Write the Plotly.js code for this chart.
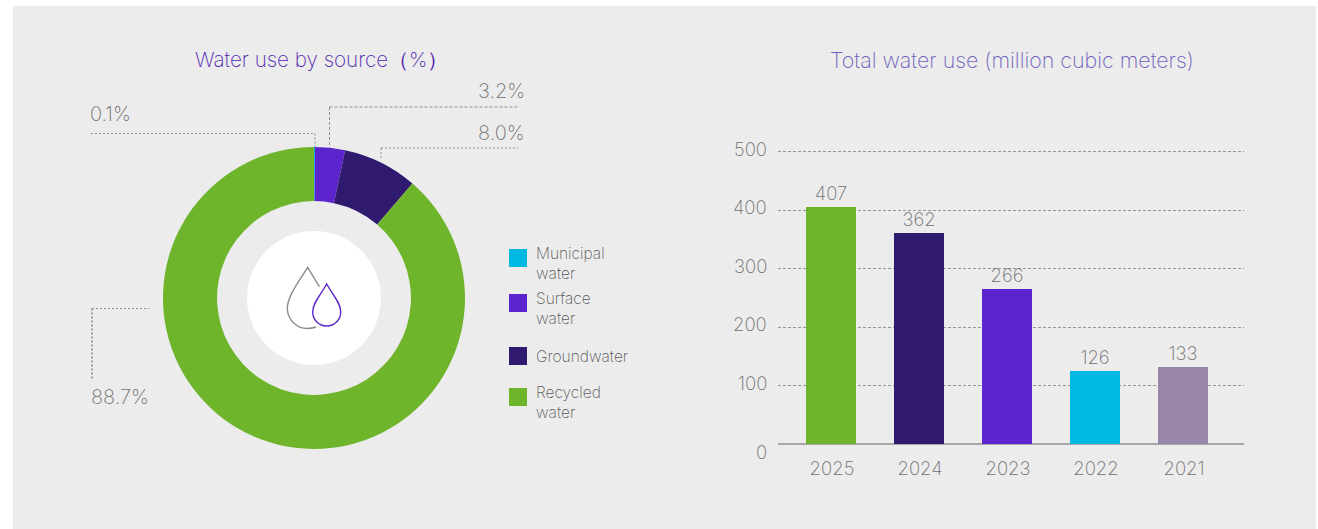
<!DOCTYPE html>
<html>
<head>
<meta charset="utf-8">
<script src="https://cdn.plot.ly/plotly-3.0.1.min.js"></script>
<style>html,body{margin:0;padding:0;background:#fff}#chart{width:1318px;height:529px}</style>
</head>
<body>
<div id="chart"></div>
<script>
// Water use figures
const sourceNames = ['Municipal water', 'Surface water', 'Groundwater', 'Recycled water'];
const sourceShares = [0.1, 3.2, 8.0, 88.7];
const sourceColors = ['#00b9e3', '#5b24cc', '#2f1a70', '#6fb52c'];
const years = ['2025', '2024', '2023', '2022', '2021'];
const totals = [407, 362, 266, 126, 133];
const yearColors = ['#6fb52c', '#2f1a70', '#5b24cc', '#00b9e3', '#9885a8'];
const yTicks = [0, 100, 200, 300, 400, 500];

const W = 1318, H = 529;
const FONT = 'Inter, Lato, sans-serif';
const WEIGHT = 200;
const px = x => x / W;
const py = y => 1 - y / H;
const GREY = '#6f6f6f';

// Rewrites an SVG path written in page pixels into paper coordinates
const toPaper = d => d.replace(/(-?[\d.]+),(-?[\d.]+)/g, (m, x, y) => px(+x) + ',' + py(+y));

const line = (x0, y0, x1, y1, color, width, dash) => ({
  type: 'line', xref: 'paper', yref: 'paper',
  x0: px(x0), y0: py(y0), x1: px(x1), y1: py(y1),
  line: {color, width, dash}
});
const leader = (x0, y0, x1, y1) => line(x0, y0, x1, y1, '#8f8f8f', 1, '2px,2px');

const label = (text, x, y, size, color, anchor, extra) => Object.assign({
  text, x: px(x), y: py(y), xref: 'paper', yref: 'paper',
  xanchor: anchor, yanchor: 'middle', showarrow: false,
  font: {family: FONT, size, color, weight: WEIGHT}
}, extra || {});

// Legend rows: swatch top and the vertical centre of the wrapped label
const legendRows = [
  {swatch: 249, centre: 263.5},
  {swatch: 294, centre: 308.5},
  {swatch: 347, centre: 356},
  {swatch: 388, centre: 402.5}
];

const shapes = [
  {type: 'rect', xref: 'paper', yref: 'paper', layer: 'below',
   x0: px(13), x1: px(1316), y0: py(6), y1: 0, fillcolor: '#ececec', line: {width: 0}},
  // Centre medallion with the two droplets
  {type: 'circle', xref: 'paper', yref: 'paper', x0: px(247), x1: px(381), y0: py(231), y1: py(365),
   fillcolor: '#ffffff', line: {width: 0}},
  {type: 'path', xref: 'paper', yref: 'paper', line: {color: '#8c8c8c', width: 1.4},
   path: toPaper('M319.3,286.7 L307.7,267.3 C300,280 287.3,296 287.3,308.3 C287.3,320 297,328.5 307,328.5 C310,328.5 313,328 316,327')},
  {type: 'path', xref: 'paper', yref: 'paper', line: {color: '#5b24cc', width: 1.4},
   path: toPaper('M326.7,284 C320,296 312.7,303 312.7,311.7 C312.7,320 319,326 326.7,326 C334.4,326 340.7,320 340.7,311.7 C340.7,303 333.4,296 326.7,284 Z')},
  // Leader lines
  leader(91, 133.5, 315, 133.5), leader(315, 133.5, 315, 147),
  line(329.5, 107, 518, 107, '#8f8f8f', 1, '3px,2px'), line(329.5, 107, 329.5, 146, '#8f8f8f', 1, '3px,2px'),
  leader(381, 148, 518, 148), leader(381, 148, 381, 160),
  leader(92, 308.5, 149, 308.5), line(92, 308.5, 92, 380, '#a0a0a0', 2, '2px,2px')
];
legendRows.forEach((row, i) => shapes.push({
  type: 'rect', xref: 'paper', yref: 'paper',
  x0: px(509), x1: px(527), y0: py(row.swatch), y1: py(row.swatch + 18),
  fillcolor: sourceColors[i], line: {width: 0}
}));

const annotations = [
  label('Water use by source（%）', 321, 60, 20.6, '#5227b0', 'center'),
  label('Total water use (million cubic meters)', 1012, 60, 21.4, '#6f5fbe', 'center'),
  label(sourceShares[1].toFixed(1) + '%', 527, 91, 20, GREY, 'right'),
  label(sourceShares[2].toFixed(1) + '%', 527, 133, 20, GREY, 'right'),
  label(sourceShares[0].toFixed(1) + '%', 88, 114, 20, GREY, 'left'),
  label(sourceShares[3].toFixed(1) + '%', 89, 397, 20, GREY, 'left')
];
legendRows.forEach((row, i) => annotations.push(
  label(sourceNames[i].replace(' ', '<br>'), 534, row.centre, 15.5, '#5a5a5a', 'left', {align: 'left'})));

// Value axis labels sit slightly off their gridlines
yTicks.forEach(v => annotations.push({
  text: String(v), x: px(769), xref: 'paper', y: v, yref: 'y',
  xanchor: 'right', yanchor: 'middle', showarrow: false,
  yshift: v === 0 ? -8 : 3,
  font: {family: FONT, size: 18.5, color: GREY, weight: WEIGHT}
}));

const donut = {
  type: 'pie', hole: 0.642, sort: false, direction: 'clockwise', rotation: 0,
  labels: sourceNames, values: sourceShares,
  marker: {colors: sourceColors, line: {width: 0}},
  textinfo: 'none', hoverinfo: 'label+percent', showlegend: false,
  domain: {x: [px(163), px(465)], y: [py(449), py(147)]}
};

const bars = {
  type: 'bar', x: years, y: totals, width: 50 / 88,
  marker: {color: yearColors, line: {width: 0}},
  text: totals.map(String), textposition: 'outside', cliponaxis: false,
  textfont: {family: FONT, size: 18.5, color: GREY, weight: WEIGHT},
  hoverinfo: 'x+y', showlegend: false
};

const layout = {
  width: W, height: H, margin: {l: 0, r: 0, t: 0, b: 0},
  paper_bgcolor: '#ffffff', plot_bgcolor: 'rgba(0,0,0,0)',
  bargap: 0, showlegend: false,
  font: {family: FONT},
  xaxis: {
    domain: [px(778), px(1244)], type: 'category', range: [-0.602, 4.693],
    showgrid: false, ticks: '', showline: false, zeroline: false,
    ticklabelstandoff: 11, ticklabelshift: 1,
    tickfont: {family: FONT, size: 18.5, color: GREY, weight: WEIGHT}
  },
  yaxis: {
    domain: [py(444), py(150.5)], range: [0, 502], tickvals: yTicks,
    showticklabels: false, ticks: '', showgrid: true,
    gridcolor: '#969696', gridwidth: 1, griddash: '3px,2px',
    zeroline: true, zerolinecolor: '#a8a8a8', zerolinewidth: 2, showline: false
  },
  shapes, annotations
};

Plotly.newPlot('chart', [donut, bars], layout, {displayModeBar: false, responsive: false});
</script>
</body>
</html>
